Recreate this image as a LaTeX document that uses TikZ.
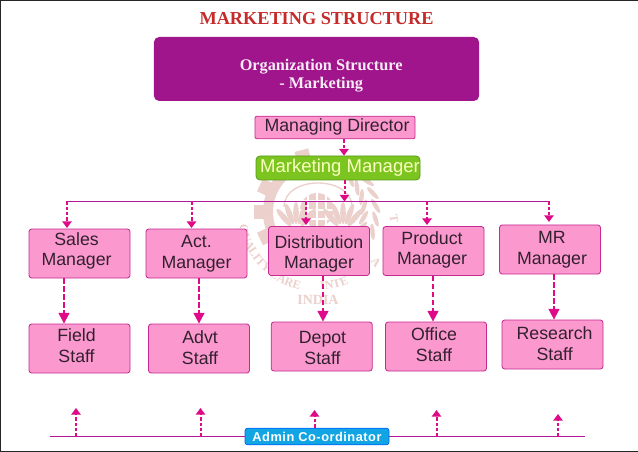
\documentclass[tikz,border=0pt]{standalone}
\usepackage{fontspec}
\setmainfont{Liberation Sans}
\newfontfamily\headfont{Liberation Serif}
\usetikzlibrary{arrows.meta,decorations.text}
\definecolor{boxpink}{HTML}{FB99CF}
\definecolor{boxedge}{HTML}{C42A90}
\definecolor{linkpink}{HTML}{DE0A87}
\definecolor{buspurple}{HTML}{B5179A}
\definecolor{headpurple}{HTML}{A0148C}
\definecolor{titlered}{HTML}{C62B2B}
\definecolor{mgrgreen}{HTML}{7CC520}
\definecolor{mgredge}{HTML}{569A1C}
\definecolor{admincyan}{HTML}{11A5E4}
\definecolor{boxtextcol}{HTML}{33202F}
\definecolor{seal}{HTML}{EBD0CC}
\tikzset{
  orgbox/.style={draw=boxedge, fill=boxpink, line width=0.6pt, rounded corners=2pt, inner sep=0pt,
    minimum width=75.75pt, minimum height=36.75pt},
  orgtext/.style={font=\fontsize{13.3pt}{15.4pt}\selectfont, text=boxtextcol, align=center, inner sep=0pt},
  bigarrow/.style={linkpink, line width=1.5pt, dash pattern=on 4pt off 2pt, -{Triangle[width=8pt,length=8pt]}},
  smallarrow/.style={linkpink, line width=1.5pt, dash pattern=on 2.5pt off 1.5pt, -{Triangle[width=7pt,length=5pt]}},
  busline/.style={buspurple, line width=0.8pt},
  sealtext/.style={font=\headfont\bfseries\fontsize{9pt}{9pt}\selectfont}
}
\begin{document}
\begin{tikzpicture}[x=0.75pt,y=-0.75pt]
  \useasboundingbox (0,0) rectangle (638,452);
  \fill[white] (0,0) rectangle (638,452);
  \draw[black!85,line width=1.5pt] (638,0) -- (0,0) -- (0,452) -- (638,452);

  % seal behind the chart
  \begin{scope}[seal]
    \foreach \ang in {15,40,...,130}
      \fill[seal,rotate around={\ang:(318,212)}] (311,148) rectangle (325,164);
    \draw[seal,line width=7.5pt] (318,212) ++(-85:50) arc[start angle=-85,end angle=-250,radius=50];
    \foreach \ang in {-85,-72,...,55} {
      \fill[seal,rotate around={\ang:(318,212)},shift={(376,212)},rotate=25] (0,0) ellipse[x radius=2.2,y radius=8];
      \fill[seal,rotate around={\ang:(318,212)},shift={(364,212)},rotate=-25] (0,0) ellipse[x radius=2.2,y radius=8];
    }
    \draw[seal,line width=1pt] (284,207) .. controls (284,175) and (352,175) .. (352,207);
    \fill[seal] (317,210) circle[radius=17];
    \draw[white,line width=1.1pt] (300,210) -- (334,210) (300,201) -- (334,201) (300,219) -- (334,219)
      (317,193) -- (317,227) (308,195) -- (308,225) (326,195) -- (326,225);
    \foreach \ang in {-40,-20,...,40} {
      \fill[seal,rotate around={\ang:(296,232)}] (296,213) ellipse[x radius=2.8,y radius=11];
      \fill[seal,rotate around={\ang:(343,232)}] (343,213) ellipse[x radius=2.8,y radius=11];
    }
    \path[decorate,decoration={text along path,text align=left,
      text={|\color{seal}\headfont\bfseries\fontsize{9pt}{9pt}\selectfont|QUALITY CARE}}]
      (318,212) ++(170:80) arc[start angle=170,end angle=90,radius=80];
    \path[decorate,decoration={text along path,text align=left,
      text={|\color{seal}\headfont\bfseries\fontsize{9pt}{9pt}\selectfont|INTE}}]
      (318,212) ++(88:78) arc[start angle=88,end angle=40,radius=78];
    \node[sealtext,text=seal,rotate=-80] (sealt) at (394,219) {T};
    \node[sealtext,text=seal,rotate=-50] (seala) at (376,262) {A};
    \node[sealtext,text=seal,font=\headfont\bfseries\fontsize{10.5pt}{10.5pt}\selectfont] (sealindia) at (318,300) {INDIA};
  \end{scope}

  \node[font=\headfont\bfseries\fontsize{13.7pt}{14pt}\selectfont, text=titlered] (title) at (316.5,19) {MARKETING STRUCTURE};
  \node[fill=headpurple, rounded corners=4pt, inner sep=0pt, minimum width=244pt, minimum height=48pt,
    label={[font=\headfont\bfseries\fontsize{12.2pt}{13.3pt}\selectfont, text=white!92!headpurple, align=center, inner sep=0pt, xshift=3.5pt, yshift=-5pt]center:Organization Structure\\- Marketing}] (orghead) at (316.5,69) {};

  \node[orgbox, minimum width=120pt, minimum height=17pt, rounded corners=1.5pt,
    label={[orgtext, xshift=1.5pt, yshift=0.4pt]center:Managing Director}] (director) at (335,127.5) {};
  \node[draw=mgredge, fill=mgrgreen, line width=0.6pt, rounded corners=3pt, inner sep=0pt, minimum width=123pt, minimum height=18pt,
    label={[orgtext, text=green!8!yellow!25!white, font=\fontsize{13.9pt}{15.4pt}\selectfont, xshift=1.5pt, yshift=0pt]center:Marketing Manager}] (mktmgr) at (338,168) {};

  % managers
  \node[orgbox, label={[orgtext, xshift=-2.2pt, yshift=1.8pt]center:Sales\\Manager}] (sales) at (79.5,253.5) {};
  \node[orgbox, label={[orgtext, yshift=-0.2pt]center:Act.\\Manager}] (act) at (196.5,253.5) {};
  \node[orgbox, label={[orgtext, yshift=-2.2pt]center:Distribution\\Manager}] (dist) at (319,251) {};
  \node[orgbox, label={[orgtext, xshift=-1.1pt, yshift=0.8pt]center:Product\\Manager}] (product) at (433.5,251) {};
  \node[orgbox, label={[orgtext, xshift=1.5pt, yshift=-0.2pt]center:MR\\Manager}] (mr) at (550,249.5) {};
  % staff
  \node[orgbox, label={[orgtext, xshift=-2.2pt, yshift=2pt]center:Field\\Staff}] (field) at (79.5,348.5) {};
  \node[orgbox, label={[orgtext, xshift=0.8pt, yshift=0.6pt]center:Advt\\Staff}] (advt) at (199,348.5) {};
  \node[orgbox, label={[orgtext, xshift=0.6pt, yshift=-1pt]center:Depot\\Staff}] (depot) at (321.7,346.5) {};
  \node[orgbox, label={[orgtext, xshift=-1.5pt, yshift=1.3pt]center:Office\\Staff}] (office) at (436,346.5) {};
  \node[orgbox, label={[orgtext, xshift=1.6pt, yshift=0.6pt]center:Research\\Staff}] (research) at (552.5,344.5) {};

  \node[draw=blue!60!cyan, fill=admincyan, line width=0.6pt, rounded corners=2pt, inner sep=0pt, minimum width=108pt, minimum height=12.5pt,
    font=\bfseries\fontsize{9.6pt}{10pt}\selectfont\addfontfeature{LetterSpace=4}, text=white] (admin) at (317,436.5) {Admin Co-ordinator};

  % bus lines
  \coordinate (busleft) at (67,201.5);
  \coordinate (busright) at (549,201.5);
  \coordinate (adminleft) at (50,436.5);
  \coordinate (adminright) at (585,436.5);
  \draw[busline] (busleft) -- (busright);
  \draw[busline] (adminleft) -- (admin.west);
  \draw[busline] (admin.east) -- (adminright);

  \draw[smallarrow] (director.south -| 344,0) -- (mktmgr.north -| 344,0);
  \draw[smallarrow] (mktmgr.south -| 344.5,0) -- (busleft -| 344.5,0);
  \foreach \mgr/\xpos/\ytip in {sales/67/228,act/191.5/228,dist/306/225,product/427/225,mr/549/222} {
    \coordinate (\mgr tip) at (\xpos,\ytip);
    \draw[smallarrow] (busleft -| \mgr tip) -- (\mgr tip);
  }
  \foreach \mgr/\staff/\xpos in {sales/field/64,act/advt/199,dist/depot/323,product/office/433,mr/research/554}
    \draw[bigarrow] (\mgr.south -| \xpos,0) -- (\staff.north -| \xpos,0);
  \foreach \upname/\xpos/\ytop in {upa/76/408,upb/200.5/408,upd/436.5/410,upe/558/414} {
    \coordinate (\upname) at (\xpos,\ytop);
    \draw[smallarrow] (adminleft -| \upname) -- (\upname);
  }
  \coordinate (upc) at (314.5,410);
  \draw[smallarrow] (admin.north -| upc) -- (upc);
\end{tikzpicture}
\end{document}
